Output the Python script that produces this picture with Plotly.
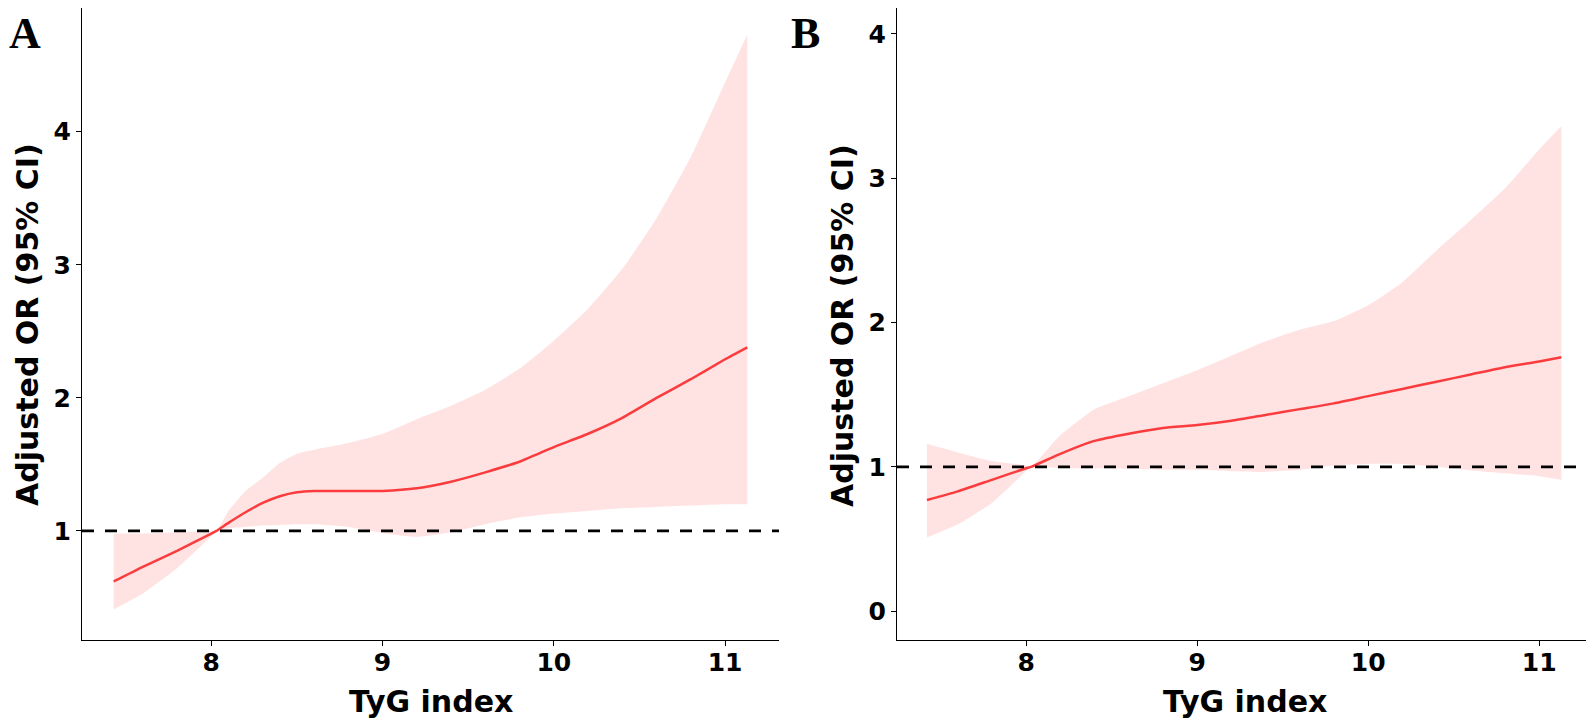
import plotly.graph_objects as go

# ---------------- Data ----------------
# Panel A
xa = [7.43, 7.6, 7.8, 8.0, 8.03, 8.1, 8.2, 8.3, 8.4, 8.5, 8.6, 8.8, 9.0, 9.2, 9.4, 9.6,
      9.8, 10.0, 10.2, 10.4, 10.6, 10.8, 11.0, 11.13]
or_a = [0.62, 0.73, 0.85, 0.98, 1.0, 1.06, 1.14, 1.21, 1.26, 1.29, 1.30, 1.30, 1.30, 1.32,
        1.37, 1.44, 1.52, 1.63, 1.73, 1.85, 2.00, 2.14, 2.29, 2.38]
lo_a = [0.41, 0.53, 0.72, 0.96, 1.0, 1.02, 1.03, 1.04, 1.045, 1.05, 1.05, 1.03, 0.985, 0.955,
        0.99, 1.05, 1.10, 1.13, 1.15, 1.17, 1.18, 1.19, 1.20, 1.20]
hi_a = [0.98, 0.98, 0.99, 1.0, 1.0, 1.15, 1.30, 1.40, 1.51, 1.58, 1.61, 1.66, 1.73, 1.84,
        1.94, 2.06, 2.22, 2.43, 2.67, 2.97, 3.35, 3.81, 4.37, 4.73]

# Panel B
xb = [7.42, 7.6, 7.8, 8.0, 8.03, 8.2, 8.4, 8.6, 8.8, 9.0, 9.2, 9.4, 9.6, 9.8, 10.0, 10.2,
      10.4, 10.6, 10.8, 11.0, 11.13]
or_b = [0.77, 0.83, 0.91, 0.99, 1.0, 1.09, 1.18, 1.23, 1.27, 1.29, 1.32, 1.36, 1.40, 1.44,
        1.49, 1.54, 1.59, 1.64, 1.69, 1.73, 1.76]
lo_b = [0.51, 0.60, 0.75, 0.97, 1.0, 0.99, 0.99, 0.985, 0.98, 0.98, 0.97, 0.965, 0.98, 1.01,
        1.02, 1.02, 1.0, 0.975, 0.955, 0.935, 0.91]
hi_b = [1.16, 1.10, 1.04, 1.01, 1.0, 1.22, 1.40, 1.49, 1.58, 1.67, 1.77, 1.87, 1.95, 2.01,
        2.12, 2.28, 2.50, 2.71, 2.93, 3.20, 3.36]

x_ticks = [8, 9, 10, 11]
y_ticks_a = [1, 2, 3, 4]
y_ticks_b = [0, 1, 2, 3, 4]
ref_value = 1
x_title = "TyG index"
y_title = "Adjusted OR (95% CI)"
panel_labels = ["A", "B"]

# ---------------- Styling ----------------
# The page body has an 8px margin, so the figure is 8px smaller in each direction
W, H = 1586, 712
LINE_COL = "rgb(250,60,62)"
BAND_COL = "rgba(255,0,0,0.11)"
FONT = "DejaVu Sans"

fig = go.Figure()

panels = [
    (xa, or_a, lo_a, hi_a, "x", "y"),
    (xb, or_b, lo_b, hi_b, "x2", "y2"),
]
for xs, c, lo, hi, xr, yr in panels:
    fig.add_trace(go.Scatter(x=xs, y=lo, mode="lines",
                             line=dict(width=0, color=BAND_COL, shape="spline", smoothing=0.5),
                             showlegend=False, hoverinfo="skip", xaxis=xr, yaxis=yr))
    fig.add_trace(go.Scatter(x=xs, y=hi, mode="lines",
                             line=dict(width=0, color=BAND_COL, shape="spline", smoothing=0.5),
                             fill="tonexty", fillcolor=BAND_COL, showlegend=False,
                             hoverinfo="skip", xaxis=xr, yaxis=yr))
    fig.add_trace(go.Scatter(x=xs, y=c, mode="lines",
                             line=dict(width=2.5, color=LINE_COL, shape="spline", smoothing=0.5),
                             showlegend=False, xaxis=xr, yaxis=yr))

# reference dashed lines at OR = 1
for xr, yr in [("x", "y"), ("x2", "y2")]:
    fig.add_shape(type="line", xref=f"{xr} domain", yref=yr, x0=0, x1=1,
                  y0=ref_value, y1=ref_value,
                  line=dict(color="black", width=2.6, dash="12px,11px"))

dom_a = [74 / W, 771 / W]
dom_b = [889 / W, 1585 / W]
dom_y = [(H - 632) / H, 1.0]

axis_common = dict(showline=True, linecolor="black", linewidth=1.2, ticks="outside",
                   ticklen=5, tickwidth=1.2, tickcolor="black", showgrid=False,
                   zeroline=False, mirror=False,
                   tickfont=dict(family=FONT, size=25, color="black", weight="bold"))

fig.update_layout(
    width=W, height=H,
    margin=dict(l=0, r=0, t=0, b=0),
    paper_bgcolor="white", plot_bgcolor="white",
    showlegend=False,
    xaxis=dict(domain=dom_a, range=[7.245, 11.315], tickvals=x_ticks, anchor="y",
               ticklabelstandoff=-5, **axis_common),
    yaxis=dict(domain=dom_y, range=[0.18, 4.93], tickvals=y_ticks_a, anchor="x", **axis_common),
    xaxis2=dict(domain=dom_b, range=[7.245, 11.315], tickvals=x_ticks, anchor="y2",
                ticklabelstandoff=-5, **axis_common),
    yaxis2=dict(domain=dom_y, range=[-0.2, 4.18], tickvals=y_ticks_b, anchor="x2", **axis_common),
)

title_font = dict(family=FONT, size=30, color="black", weight="bold")
label_font = dict(family="Liberation Serif", size=44, color="black", weight="bold")

for cx, ytx, lab, lx in [((74 + 771) / 2, 19, panel_labels[0], 0),
                         ((889 + 1585) / 2, 834, panel_labels[1], 782)]:
    fig.add_annotation(text=x_title, xref="paper", yref="paper", x=cx / W, y=(H - 693) / H,
                       xanchor="center", yanchor="middle", showarrow=False, font=title_font)
    fig.add_annotation(text=y_title, xref="paper", yref="paper", x=ytx / W, y=(H - 317) / H,
                       xanchor="center", yanchor="middle", textangle=-90, showarrow=False,
                       font=title_font)
    fig.add_annotation(text=lab, xref="paper", yref="paper", x=lx / W, y=1.0,
                       xanchor="left", yanchor="top", showarrow=False, borderpad=0,
                       font=label_font)

fig.write_html("out.html")
